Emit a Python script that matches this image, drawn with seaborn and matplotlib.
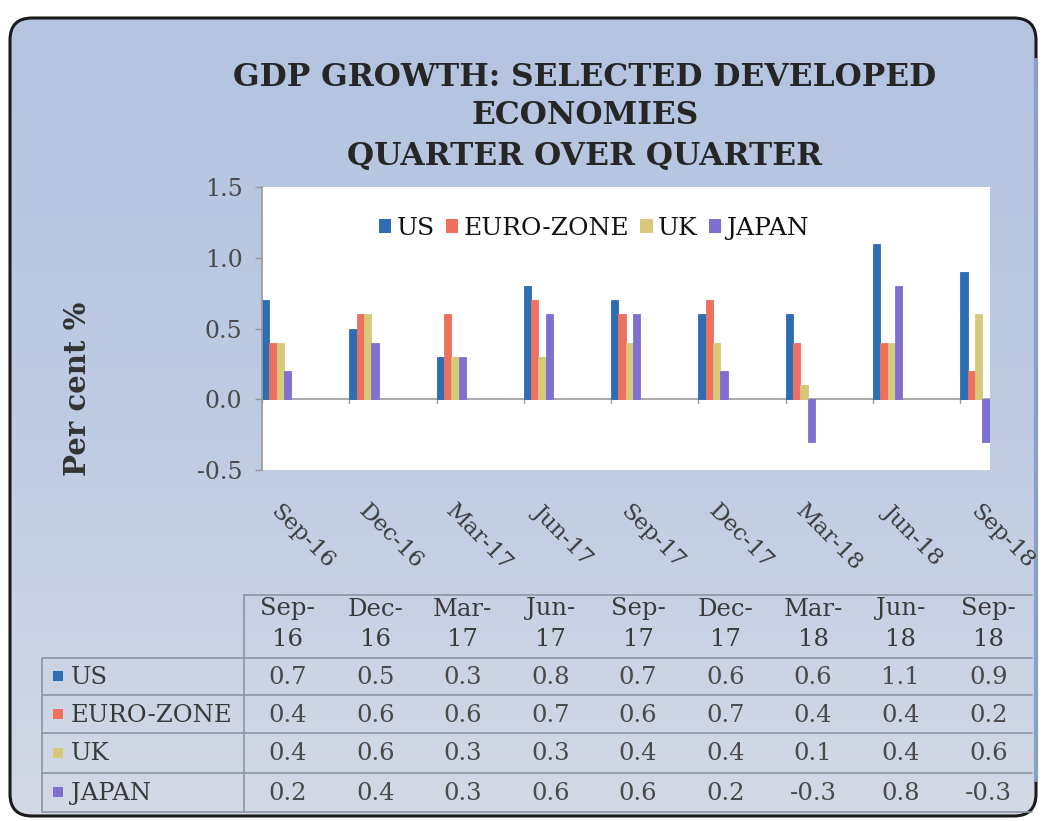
import numpy as np
import pandas as pd
import matplotlib
matplotlib.use("Agg")
import matplotlib.pyplot as plt
from matplotlib.patches import FancyBboxPatch, Rectangle, Patch
import matplotlib.colors as mcolors
import seaborn as sns

# ---------------- data ----------------
quarters = ["Sep-16", "Dec-16", "Mar-17", "Jun-17", "Sep-17", "Dec-17", "Mar-18", "Jun-18", "Sep-18"]
countries = ["US", "EURO-ZONE", "UK", "JAPAN"]
us = [0.7, 0.5, 0.3, 0.8, 0.7, 0.6, 0.6, 1.1, 0.9]
euro = [0.4, 0.6, 0.6, 0.7, 0.6, 0.7, 0.4, 0.4, 0.2]
uk = [0.4, 0.6, 0.3, 0.3, 0.4, 0.4, 0.1, 0.4, 0.6]
japan = [0.2, 0.4, 0.3, 0.6, 0.6, 0.2, -0.3, 0.8, -0.3]
yticks = [-0.5, 0.0, 0.5, 1.0, 1.5]
title_lines = ["GDP GROWTH: SELECTED DEVELOPED", "ECONOMIES", "QUARTER OVER QUARTER"]
ylabel = "Per cent %"

colors = ["#2f6db3", "#f0705f", "#d6c97a", "#7f6fd0"]
series = [us, euro, uk, japan]

df = pd.DataFrame({
    "quarter": np.repeat([quarters], 4, axis=0).ravel(),
    "country": np.repeat(countries, len(quarters)),
    "value": np.concatenate(series),
})

W, H = 1042, 821
sns.set_theme(style="white")
plt.rcParams["font.family"] = ["DejaVu Serif", "DejaVu Sans"]

fig = plt.figure(figsize=(W / 100, H / 100), dpi=100)
fig.patch.set_facecolor("white")

# ---------------- background panel ----------------
bg = fig.add_axes([0, 0, 1, 1], zorder=0)
bg.set_xlim(0, W)
bg.set_ylim(H, 0)
bg.axis("off")
grad = np.linspace(0, 1, 256)[:, None]
cmap = mcolors.LinearSegmentedColormap.from_list("bgc", ["#b3c3e0", "#bfcbe3", "#d3d9e5"])
im = bg.imshow(grad, cmap=cmap, aspect="auto", extent=(8, 1040, 818, 16), zorder=0)
panel = FancyBboxPatch((10, 18), 1026, 798, boxstyle="round,pad=0,rounding_size=22",
                       facecolor="none", edgecolor="#1a1a1a", linewidth=2.2, zorder=2)
bg.add_patch(panel)
im.set_clip_path(panel)
bg.plot([1036, 1036], [60, 780], color="#8aa0c8", lw=3, zorder=3)

# ---------------- title / labels ----------------
tx = 585 / W
for txt, yc in zip(title_lines, [78, 116, 156]):
    fig.text(tx, 1 - yc / H, txt, ha="center", va="center", fontsize=22.5,
             fontweight="bold", color="#262626", zorder=5)
fig.text(78 / W, 1 - 389 / H, ylabel, rotation=90, ha="center", va="center",
         fontsize=21, fontweight="bold", color="#333333", zorder=5)

# ---------------- bar chart ----------------
L, R, T, B = 262, 990, 187, 470
ax = fig.add_axes([L / W, 1 - B / H, (R - L) / W, (B - T) / H], zorder=3)
ax.set_facecolor("white")
sns.barplot(data=df, x="quarter", y="value", hue="country", order=quarters,
            hue_order=countries, palette=colors, width=0.335, dodge=True, gap=0,
            saturation=1, errorbar=None, legend=False, ax=ax)
for p in ax.patches:
    p.set_edgecolor(p.get_facecolor())
    p.set_linewidth(0.6)
half = 0.1675
ax.set_xlim(-half, len(quarters) - 1 + half + 0.005)
ax.set_ylim(-0.5, 1.5)
ax.set_yticks(yticks)
ax.set_yticklabels([f"{v:.1f}" for v in yticks], fontsize=17, color="#4a4a4a")
ax.tick_params(axis="y", direction="out", length=5, width=1, color="#999999", pad=9, left=True)
ax.set_xticks([i - half for i in range(len(quarters))])
ax.set_xticklabels([])
ax.tick_params(axis="x", length=0)
for s in ["top", "right", "bottom"]:
    ax.spines[s].set_visible(False)
ax.spines["left"].set_color("#9a9a9a")
ax.axhline(0, color="#9a9a9a", lw=1.2, zorder=0.5)
for i in range(len(quarters)):
    ax.plot([i - half, i - half], [0, -0.025], color="#9a9a9a", lw=1, zorder=0.5, clip_on=False)
ax.set_xlabel("")
ax.set_ylabel("")

# rotated category labels
for i, q in enumerate(quarters):
    xpix = L + i * 87.5 + 12
    fig.text(xpix / W, 1 - 508 / H, q, rotation=-45, rotation_mode="anchor",
             ha="left", va="center", fontsize=16.5, color="#3a3a3a", zorder=5)

handles = [Patch(facecolor=c, edgecolor="none") for c in colors]
ax.legend(handles, countries, loc="center", bbox_to_anchor=(0.456, 0.855), ncol=4,
          frameon=False, fontsize=18, handlelength=0.5, handleheight=0.5,
          handletextpad=0.2, columnspacing=0.45, labelcolor="#111111")

# ---------------- data table ----------------
tb = fig.add_axes([0, 0, 1, 1], zorder=4)
tb.set_xlim(0, W)
tb.set_ylim(H, 0)
tb.axis("off")
lc = "#8c93a3"
x_lab, x_c0, x_end = 42, 244, 1032
row_y = [658, 695, 733, 773, 812]
hdr_top = 595
colw = (x_end - x_c0) / len(quarters)
tb.plot([x_c0, x_end], [hdr_top, hdr_top], color=lc, lw=1.2)
tb.plot([x_c0, x_c0], [hdr_top, row_y[-1]], color=lc, lw=1.2)
tb.plot([x_lab, x_lab], [row_y[0], row_y[-1]], color=lc, lw=1.2)
for yy in row_y:
    tb.plot([x_lab, x_end], [yy, yy], color=lc, lw=1.2)
fs = 17.5
for i, q in enumerate(quarters):
    cx = x_c0 + colw * (i + 0.5)
    a, b = q.split("-")
    tb.text(cx, 609, a + "-", ha="center", va="center", fontsize=fs, color="#3a3a3a")
    tb.text(cx, 640, b, ha="center", va="center", fontsize=fs, color="#3a3a3a")
for r, (name, vals, c) in enumerate(zip(countries, series, colors)):
    yc = (row_y[r] + row_y[r + 1]) / 2
    tb.add_patch(Rectangle((53, yc - 5), 10, 10, facecolor=c, edgecolor="none"))
    tb.text(71, yc + 1, name, ha="left", va="center", fontsize=fs, color="#3a3a3a")
    for i, v in enumerate(vals):
        cx = x_c0 + colw * (i + 0.5)
        tb.text(cx, yc + 1, f"{v:.1f}", ha="center", va="center", fontsize=fs, color="#4a4a4a")

fig.savefig("out.png", dpi=100)
